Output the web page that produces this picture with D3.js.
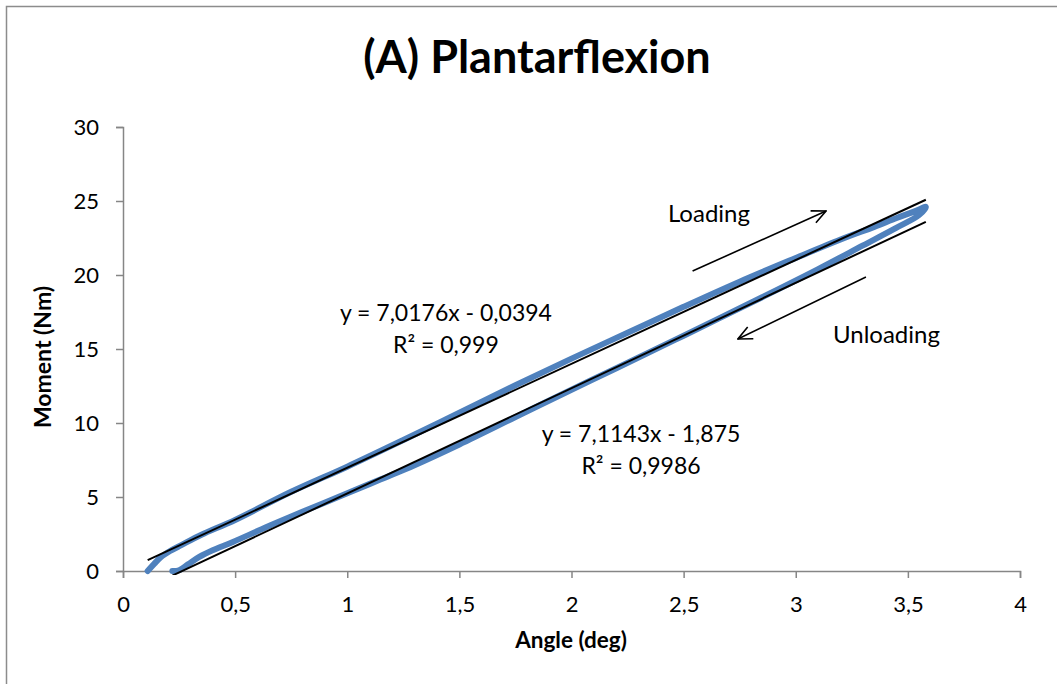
<!DOCTYPE html>
<html>
<head>
<meta charset="utf-8">
<script src="https://cdn.jsdelivr.net/npm/d3@7"></script>
<style>
  html, body { margin: 0; padding: 0; background: #fff; }
  svg { display: block; font-family: Lato, "Open Sans", sans-serif; }
</style>
</head>
<body>
<svg id="chart" width="1057" height="684"></svg>
<script>
// Moment–angle loop, loading branch then unloading branch
const loadAngle  = [0.11, 0.14, 0.17, 0.21, 0.26, 0.35, 0.50, 0.75, 1.00, 1.25, 1.50, 1.75, 2.00, 2.25, 2.50, 2.75, 3.00, 3.20, 3.35, 3.45, 3.53, 3.58];
const loadMoment = [0.00, 0.50, 0.95, 1.35, 1.75, 2.45, 3.45, 5.35, 7.05, 8.85, 10.70, 12.55, 14.35, 16.10, 17.85, 19.55, 21.15, 22.40, 23.25, 23.85, 24.30, 24.60];

const unloadAngle  = [3.58, 3.55, 3.45, 3.30, 3.10, 2.85, 2.50, 2.20, 2.00, 1.75, 1.50, 1.30, 1.15, 1.00, 0.80, 0.64, 0.49, 0.40, 0.34, 0.29, 0.25, 0.22];
const unloadMoment = [24.60, 24.05, 23.20, 22.00, 20.40, 18.50, 15.90, 13.70, 12.25, 10.40, 8.55, 7.15, 6.20, 5.25, 4.00, 2.97, 1.96, 1.40, 0.95, 0.45, 0.05, 0.00];

// Linear trendlines: slope, intercept and fit quality
const loadFit   = { slope: 7.0176, intercept: -0.0394, label: "y = 7,0176x - 0,0394", r2: "R² = 0,999" };
const unloadFit = { slope: 7.1143, intercept: -1.875,  label: "y = 7,1143x - 1,875",  r2: "R² = 0,9986" };

const xTicks = [0, 0.5, 1, 1.5, 2, 2.5, 3, 3.5, 4];
const yTicks = [0, 5, 10, 15, 20, 25, 30];

const svg = d3.select("#chart");
const plot = { left: 123, right: 1020, top: 127, bottom: 571 };

const x = d3.scaleLinear().domain([0, 4]).range([plot.left, plot.right]);
const y = d3.scaleLinear().domain([0, 30]).range([plot.bottom, plot.top]);
const fmt = d => String(d).replace(".", ",");
const bodySize = "23px";

// chart area frame (only top and left edges fall inside the page)
svg.append("rect").attr("x", 6.5).attr("y", 6.5).attr("width", 1100).attr("height", 800)
  .attr("fill", "none").attr("stroke", "#8c8c8c").attr("stroke-width", 1.5);

const defs = svg.append("defs");
defs.append("clipPath").attr("id", "plotClip")
  .append("rect").attr("x", plot.left).attr("y", plot.top)
  .attr("width", plot.right - plot.left).attr("height", plot.bottom - plot.top + 4);

// axes
const axisColor = "#868686";
const gx = svg.append("g").attr("transform", `translate(0,${plot.bottom})`)
  .call(d3.axisBottom(x).tickValues(xTicks).tickFormat(fmt).tickSize(7).tickPadding(18));
const gy = svg.append("g").attr("transform", `translate(${plot.left},0)`)
  .call(d3.axisLeft(y).tickValues(yTicks).tickSize(7).tickPadding(17));
[gx, gy].forEach(g => {
  g.select(".domain").attr("stroke", axisColor).attr("stroke-width", 1.5);
  g.selectAll(".tick line").attr("stroke", axisColor).attr("stroke-width", 1.5);
  g.selectAll(".tick text").attr("fill", "#000").style("font-size", "22px")
    .style("font-family", "Lato, 'Open Sans', sans-serif");
});

const line = d3.line().x(d => x(d[0])).y(d => y(d[1])).curve(d3.curveCatmullRom);
const loop = loadAngle.map((a, i) => [a, loadMoment[i]])
  .concat(unloadAngle.slice(1).map((a, i) => [a, unloadMoment[i + 1]]));

// measured loop
svg.append("path").datum(loop).attr("d", line)
  .attr("fill", "none").attr("stroke", "#4f81bd").attr("stroke-width", 6)
  .attr("stroke-linejoin", "round").attr("stroke-linecap", "round");

// trendlines over each branch's angle range
const trend = (fit, xs) => {
  const x0 = d3.min(xs), x1 = d3.max(xs);
  return [[x0, fit.slope * x0 + fit.intercept], [x1, fit.slope * x1 + fit.intercept]];
};
const straight = d3.line().x(d => x(d[0])).y(d => y(d[1]));
svg.append("g").attr("clip-path", "url(#plotClip)").selectAll("path")
  .data([trend(loadFit, loadAngle), trend(unloadFit, unloadAngle)])
  .join("path").attr("d", straight)
  .attr("fill", "none").attr("stroke", "#000").attr("stroke-width", 2);

// trendline equations
const eq = [
  { fit: loadFit,   at: [1.44, 16.89] },
  { fit: unloadFit, at: [2.31, 8.72] }
];
eq.forEach(e => {
  const t = svg.append("text").attr("text-anchor", "middle").style("font-size", bodySize);
  t.append("tspan").attr("x", x(e.at[0])).attr("y", y(e.at[1])).text(e.fit.label);
  t.append("tspan").attr("x", x(e.at[0])).attr("dy", 32).text(e.fit.r2);
});

// direction labels and arrows
const notes = [
  { text: "Loading",   at: [2.43, 23.58], from: [2.54, 20.27], to: [3.135, 24.32] },
  { text: "Unloading", at: [3.166, 15.41], from: [3.313, 19.86], to: [2.742, 15.68] }
];
defs.append("marker").attr("id", "openArrow")
  .attr("viewBox", "0 0 16 16").attr("refX", 15).attr("refY", 8)
  .attr("markerWidth", 16).attr("markerHeight", 16).attr("markerUnits", "userSpaceOnUse")
  .attr("orient", "auto")
  .append("path").attr("d", "M1,1.5 L15,8 L1,14.5").attr("fill", "none")
  .attr("stroke", "#000").attr("stroke-width", 1.6);
notes.forEach(n => {
  svg.append("line")
    .attr("x1", x(n.from[0])).attr("y1", y(n.from[1]))
    .attr("x2", x(n.to[0])).attr("y2", y(n.to[1]))
    .attr("stroke", "#000").attr("stroke-width", 1.6)
    .attr("marker-end", "url(#openArrow)");
  svg.append("text").attr("x", x(n.at[0])).attr("y", y(n.at[1]))
    .style("font-size", "24px").text(n.text);
});

// titles
svg.append("text").attr("x", 537).attr("y", 73).attr("text-anchor", "middle")
  .style("font-size", "45px").style("font-weight", "bold").text("(A) Plantarflexion");
svg.append("text").attr("x", 571).attr("y", 648).attr("text-anchor", "middle")
  .style("font-size", "22.5px").style("font-weight", "bold").text("Angle (deg)");
svg.append("text").attr("transform", "translate(51,357) rotate(-90)").attr("text-anchor", "middle")
  .style("font-size", "23px").style("font-weight", "bold").text("Moment (Nm)");
</script>
</body>
</html>
